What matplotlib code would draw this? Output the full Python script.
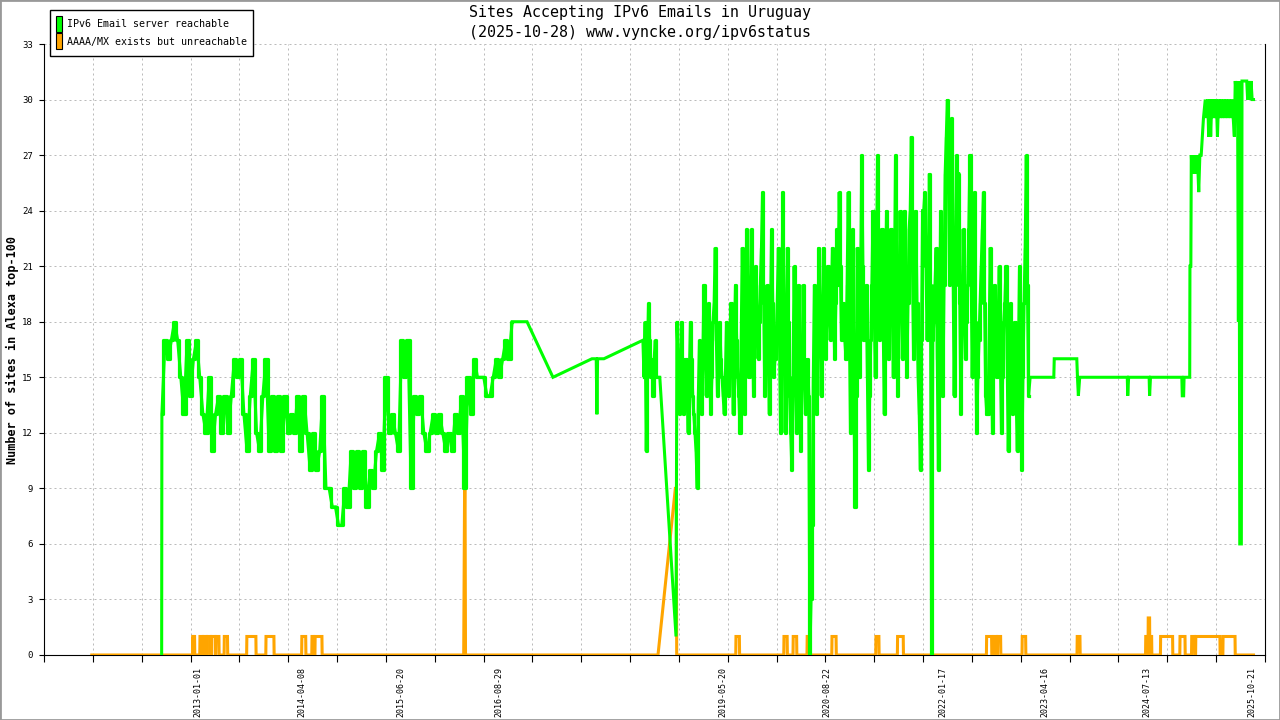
import matplotlib
matplotlib.use('Agg')
import matplotlib.pyplot as plt
import matplotlib.dates as mdates
from matplotlib.patches import Patch, Rectangle
import numpy as np
import pandas as pd

plt.rcParams['path.simplify'] = False

GREEN = '#00ff00'
ORANGE = '#ffa500'
MONO = 'DejaVu Sans Mono'

# --- IPv6 email server reachable (green) ---
# every 14 days from 2012-07-25
green_2012 = [13, 17, 16, 17, 18, 17, 15, 13, 17, 14,
              16, 17, 15, 13, 12, 15, 11, 13, 14, 12,
              14, 12, 14, 16, 15, 16, 13, 11, 14, 16,
              12, 11, 14, 16, 11, 14, 11, 14, 11, 14,
              12, 13, 12, 14, 11, 14, 12, 10, 12, 10,
              11, 14, 9, 9, 8, 8, 7, 7, 9, 8,
              11, 9, 11, 9, 11, 8, 10, 9, 11, 12,
              10, 15, 12, 13, 12, 11, 17, 15, 17, 9,
              14, 13, 14, 12, 11, 12, 13, 12, 13, 12,
              11, 12, 11, 13, 12, 14, 9, 15, 13, 16,
              15, 15, 15, 14, 14, 15, 16, 15, 16, 17,
              16, 18]
# few measurements 2016-2018
green_2016 = [('2016-11-07', 18), ('2016-12-31', 18), ('2017-04-25', 15),
              ('2017-10-15', 16), ('2017-11-03', 16), ('2017-11-06', 13),
              ('2017-11-09', 16), ('2017-12-07', 16), ('2018-05-29', 17)]
# every 5 days from 2018-06-03
green_2018 = [15, 18, 11, 16, 19, 17, 15, 16, 14, 16, 17, 15, 15]
green_drop = [('2018-08-12', 15), ('2018-10-23', 1)]
# every 5 days from 2018-10-27
green_2019 = [18, 16, 13, 15, 18, 16, 13, 15, 16, 14, 12, 15, 18, 16, 14, 13, 12, 11, 9, 14, 17, 15,
              13, 16, 20, 17, 14, 16, 19, 16, 13, 15, 18, 19, 22, 17, 14, 16, 18, 16, 15, 14, 13, 15,
              18, 16, 14, 16, 19, 16, 13, 17, 20, 17, 15, 14, 12, 17, 22, 17, 13, 18, 23, 19,
              15, 19, 23, 18, 14, 17, 21, 18, 16, 18, 20, 22, 25, 19, 14, 17, 20, 16, 13, 18, 23, 19, 15, 16,
              17, 19, 22, 17, 12, 18, 25, 18, 12, 17, 22, 18, 14, 12, 10, 15, 21, 16, 12, 16, 20, 15,
              11, 15, 20, 16, 13, 15, 16, 14, 0, 3, 7, 15, 20, 17, 13, 17, 22, 18, 14, 18, 22, 19,
              16, 18, 21, 19, 17, 19, 22, 19, 16, 19, 23, 20, 25, 21, 17, 18, 19, 17, 16, 20, 25, 18,
              12, 17, 23, 15, 8, 14, 22, 18, 15, 20, 27, 21, 17, 18, 20, 15, 10, 14, 17, 20, 24, 19,
              15, 20, 27, 21, 17, 20, 23, 18, 13, 19, 24, 20, 16, 19, 23, 19, 15, 20, 27, 20, 14, 19,
              24, 20, 16, 20, 24, 19, 15, 19, 23, 24, 28, 21, 16, 20, 24, 19, 15, 13, 10, 17, 24, 24,
              25, 21, 17, 21, 26, 20, 0, 17, 18, 20, 22, 16, 10, 17, 24, 19, 14, 20, 26, 28, 30, 25,
              20, 24, 29, 21, 14, 20, 27, 26, 26, 19, 13, 18, 23, 19, 16, 18, 20, 23, 27, 21, 15, 20,
              25, 18, 12, 15, 17, 19, 21, 23, 25, 19, 14, 13, 13, 17, 22, 17, 12, 16, 20, 17, 15, 18,
              21, 16, 12, 15, 18, 19, 21, 16, 11, 15, 19, 16, 13, 15, 18, 14, 11, 16, 21, 15,
              10, 15, 19, 22, 27, 20, 14]
green_2023 = [('2023-02-10', 15), ('2023-05-26', 15), ('2023-05-28', 16), ('2023-09-05', 16),
              ('2023-09-08', 15), ('2023-09-12', 14), ('2023-09-18', 15), ('2024-04-16', 15),
              ('2024-04-18', 14), ('2024-04-22', 15), ('2024-07-22', 15), ('2024-07-24', 14),
              ('2024-07-28', 15), ('2024-12-14', 15), ('2024-12-16', 14), ('2024-12-22', 14),
              ('2024-12-24', 15), ('2025-01-18', 15), ('2025-01-19', 21), ('2025-01-23', 21),
              ('2025-01-25', 27), ('2025-01-29', 26), ('2025-02-02', 27), ('2025-02-07', 26),
              ('2025-02-11', 27), ('2025-02-17', 26), ('2025-02-21', 27), ('2025-02-27', 25),
              ('2025-03-04', 27), ('2025-03-10', 27), ('2025-03-20', 29), ('2025-03-28', 30),
              ('2025-04-03', 29), ('2025-04-08', 30), ('2025-04-12', 28), ('2025-04-17', 30),
              ('2025-04-21', 28), ('2025-04-26', 30), ('2025-05-01', 29), ('2025-05-06', 30),
              ('2025-05-11', 29), ('2025-05-16', 30), ('2025-05-21', 28), ('2025-05-26', 30),
              ('2025-06-01', 29), ('2025-06-06', 30), ('2025-06-12', 29), ('2025-06-18', 30),
              ('2025-06-24', 29), ('2025-06-30', 30), ('2025-07-06', 29), ('2025-07-12', 30),
              ('2025-07-18', 29), ('2025-07-24', 30), ('2025-07-30', 29), ('2025-08-04', 28),
              ('2025-08-08', 31), ('2025-08-14', 30), ('2025-08-18', 31), ('2025-08-22', 18),
              ('2025-08-25', 31), ('2025-08-28', 6), ('2025-09-04', 6), ('2025-09-07', 31),
              ('2025-09-28', 31), ('2025-10-02', 30), ('2025-10-07', 31), ('2025-10-12', 30),
              ('2025-10-17', 31), ('2025-10-22', 30), ('2025-10-28', 30)]

# --- AAAA/MX exists but unreachable (orange) ---
orange_fixed = [('2011-09-18', 0), ('2016-03-25', 0), ('2016-03-27', 4.5), ('2016-03-29', 9),
                ('2016-03-31', 9), ('2016-04-02', 0), ('2018-08-04', 0), ('2018-10-20', 9),
                ('2018-10-24', 9), ('2018-10-25', 4), ('2018-10-26', 0), ('2025-10-28', 0)]
orange_bumps = [('2012-12-09', '2012-12-11', 1), ('2012-12-14', '2012-12-17', 1),
                ('2013-01-10', '2013-01-22', 1), ('2013-01-26', '2013-02-08', 1),
                ('2013-02-12', '2013-02-26', 1), ('2013-03-02', '2013-03-18', 1),
                ('2013-03-22', '2013-04-04', 1), ('2013-04-28', '2013-05-12', 1),
                ('2013-08-06', '2013-09-15', 1), ('2013-10-30', '2013-12-04', 1),
                ('2014-04-07', '2014-04-24', 1), ('2014-05-22', '2014-05-27', 1),
                ('2014-06-05', '2014-07-05', 1), ('2019-07-16', '2019-07-31', 1),
                ('2020-02-14', '2020-02-28', 1), ('2020-03-26', '2020-04-10', 1),
                ('2020-05-27', '2020-06-02', 1), ('2020-09-14', '2020-10-02', 1),
                ('2021-03-28', '2021-04-10', 1), ('2021-07-02', '2021-07-27', 1),
                ('2022-08-01', '2022-08-23', 1), ('2022-09-03', '2022-09-14', 1),
                ('2022-09-19', '2022-10-02', 1), ('2023-01-06', '2023-01-21', 1),
                ('2023-09-07', '2023-09-19', 1), ('2024-07-07', '2024-07-15', 1),
                ('2024-07-18', '2024-07-24', 2), ('2024-07-27', '2024-08-02', 1),
                ('2024-09-11', '2024-11-03', 1), ('2024-12-06', '2024-12-28', 1),
                ('2025-01-27', '2025-02-08', 1), ('2025-02-14', '2025-06-01', 1),
                ('2025-06-15', '2025-08-07', 1)]

label_dates = ['2013-01-01', '2014-04-08', '2015-06-20', '2016-08-29', '2019-05-20',
               '2020-08-22', '2022-01-17', '2023-04-16', '2024-07-13', '2025-10-21']


def regular(start, step, values):
    return list(zip(pd.date_range(start, periods=len(values), freq=f'{step}D'), values))


def explicit(points):
    return [(pd.Timestamp(d), v) for d, v in points]


seg_2012 = regular('2012-07-25', 14, green_2012)
seg_2018 = regular('2018-06-03', 5, green_2018)
seg_2019 = regular('2018-10-27', 5, green_2019)

green = [(pd.Timestamp('2012-07-24'), 0)]
green += seg_2012 + explicit(green_2016) + seg_2018 + explicit(green_drop)
green += seg_2019 + explicit(green_2023)
gx, gy = zip(*green)

one_day = pd.Timedelta(days=1)
orange = explicit(orange_fixed)
for s, e, lvl in orange_bumps:
    s, e = pd.Timestamp(s), pd.Timestamp(e)
    orange += [(s - one_day, 0), (s, lvl), (e, lvl), (e + one_day, 0)]
orange.sort(key=lambda p: p[0])
ox, oy = zip(*orange)

fig = plt.figure(figsize=(12.8, 7.2), dpi=100)
ax = fig.add_axes([44 / 1280, 65 / 720, 1221 / 1280, 611 / 720])

ax.plot(ox, oy, color=ORANGE, lw=2.2, zorder=3, solid_joinstyle='miter')
ax.plot(gx, gy, color=GREEN, lw=2.2, zorder=4, solid_joinstyle='miter')
# daily samples: vertical jumps between values
for seg in (seg_2012, seg_2018, seg_2019):
    sx, sy = zip(*seg)
    ax.plot(sx, sy, color=GREEN, lw=2.3, zorder=4, drawstyle='steps-mid')

xmin, xmax = pd.Timestamp('2011-02-18'), pd.Timestamp('2025-12-18')
ax.set_xlim(xmin, xmax)
ax.set_ylim(0, 33)

ax.set_yticks(range(0, 34, 3))
ax.set_xticks(np.linspace(mdates.date2num(xmin), mdates.date2num(xmax), 26))
ax.set_xticklabels([])
ax.set_xticks(mdates.date2num(pd.to_datetime(label_dates)), minor=True)
ax.set_xticklabels(label_dates, minor=True, rotation=90, fontsize=6, family=MONO)
for t in ax.get_yticklabels():
    t.set_family(MONO)
ax.tick_params(axis='x', which='minor', length=0, pad=8.5)
ax.tick_params(axis='x', which='major', length=4.8, width=0.8, direction='out')
ax.tick_params(axis='y', length=3.6, width=0.8, labelsize=6.5, pad=4.5)

ax.grid(True, which='major', color='#bbbbbb', linestyle=(0, (2, 3)), lw=0.72)
ax.set_axisbelow(True)
ax.spines['top'].set_visible(False)
for s in ('left', 'right', 'bottom'):
    ax.spines[s].set_linewidth(0.8)

ax.set_ylabel('Number of sites in Alexa top-100', fontsize=8.5, fontweight='bold', family=MONO)
ax.yaxis.set_label_coords(-0.0205, 0.5)

fig.text(0.5, 1 - 13 / 720, 'Sites Accepting IPv6 Emails in Uruguay',
         ha='center', va='center', fontsize=10.8, family=MONO)
fig.text(0.5, 1 - 32 / 720, '(2025-10-28) www.vyncke.org/ipv6status',
         ha='center', va='center', fontsize=10.8, family=MONO)

handles = [Patch(facecolor=GREEN, edgecolor='black', lw=0.8),
           Patch(facecolor=ORANGE, edgecolor='black', lw=0.8)]
leg = ax.legend(handles, ['IPv6 Email server reachable', 'AAAA/MX exists but unreachable'],
                loc='upper left', bbox_to_anchor=(50 / 1280, 1 - 10 / 720),
                bbox_transform=fig.transFigure, prop={'family': MONO, 'size': 7.2},
                handlelength=0.6, handleheight=2.1, handletextpad=0.5, borderpad=0.62,
                labelspacing=0.1, borderaxespad=0, fancybox=False, framealpha=1,
                edgecolor='black')
leg.get_frame().set_linewidth(1.0)

fig.patches.append(Rectangle((0, 0), 1, 1, transform=fig.transFigure, fill=False,
                             edgecolor='#999999', lw=2))

fig.savefig('out.png', dpi=100)
